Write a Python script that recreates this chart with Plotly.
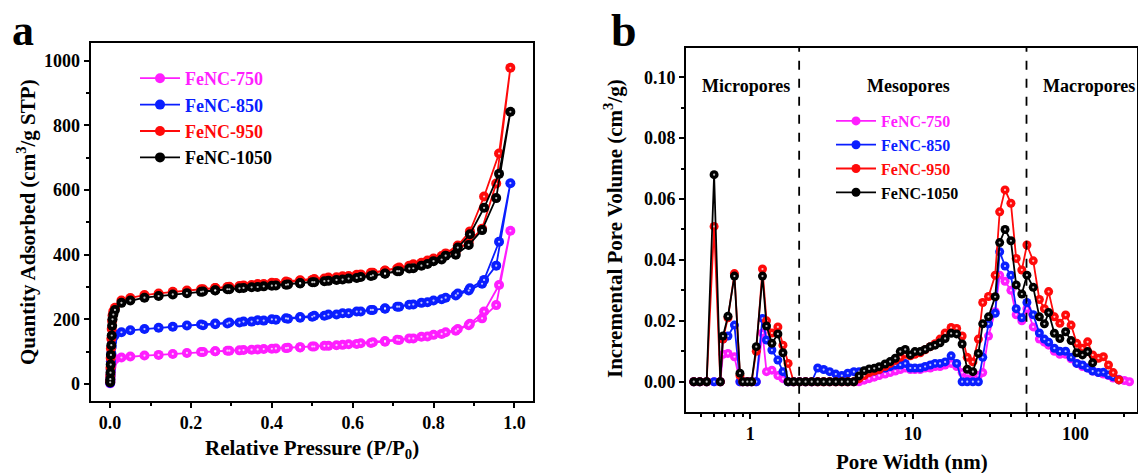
import math
import plotly.graph_objects as go

# ---------------- Panel a: N2 isotherms ----------------
series_names = ["FeNC-750", "FeNC-850", "FeNC-950", "FeNC-1050"]
series_colors = ["#FF1EFF", "#0A1EFF", "#FF0A0A", "#000000"]

ads_p = [0.0002, 0.0005, 0.001, 0.0015, 0.002, 0.003, 0.004, 0.005, 0.006, 0.008,
         0.012, 0.028, 0.05, 0.085, 0.12, 0.155, 0.19, 0.225, 0.26, 0.295,
         0.33, 0.365, 0.40, 0.435, 0.47, 0.505, 0.54, 0.575, 0.61, 0.645,
         0.68, 0.715, 0.75, 0.785, 0.82, 0.855, 0.887, 0.92, 0.955, 0.99]
des_p = [0.962, 0.925, 0.89, 0.86, 0.83, 0.80, 0.77, 0.74, 0.71, 0.68,
         0.65, 0.62, 0.59, 0.56, 0.53, 0.50, 0.47, 0.44, 0.41, 0.38,
         0.35, 0.32, 0.29, 0.26, 0.23]

ads_750 = [2, 8, 18, 30, 42, 52, 60, 66, 70, 73,
           77, 82, 85, 88, 90, 93, 96, 99, 101, 103,
           105, 107, 109, 111, 113, 116, 118, 121, 124, 127,
           131, 136, 141, 147, 155, 165, 182, 203, 244, 474]
des_750 = [306, 224, 186, 170, 160, 152, 146, 141, 137, 133,
           129, 126, 123, 120, 118, 116, 114, 112, 110, 108,
           106, 104, 103, 101, 99]

ads_850 = [3, 10, 25, 45, 70, 95, 115, 130, 140, 146,
           152, 160, 166, 170, 174, 177, 181, 184, 187, 190,
           193, 197, 200, 203, 207, 211, 215, 219, 224, 229,
           233, 239, 246, 253, 262, 274, 289, 310, 366, 621]
des_850 = [440, 322, 296, 280, 267, 258, 251, 245, 239, 234,
           229, 224, 219, 215, 211, 208, 205, 202, 199, 196,
           193, 190, 187, 185, 182]

ads_950 = [8, 25, 50, 80, 110, 140, 170, 195, 212, 225,
           236, 258, 266, 275, 280, 285, 289, 293, 297, 301,
           305, 309, 313, 317, 321, 325, 329, 333, 338, 344,
           351, 360, 370, 382, 396, 410, 440, 480, 620, 978]
des_950 = [713, 580, 472, 428, 404, 388, 375, 366, 357, 350,
           344, 339, 334, 330, 326, 322, 319, 315, 312, 309,
           306, 303, 300, 297, 293]

ads_1050 = [5, 15, 35, 60, 90, 120, 150, 180, 200, 215,
            229, 251, 258, 267, 272, 277, 281, 285, 289, 293,
            297, 300, 304, 307, 311, 315, 319, 323, 328, 334,
            341, 349, 358, 371, 385, 400, 430, 476, 575, 842]
des_1050 = [650, 545, 463, 422, 397, 380, 366, 357, 349, 342,
            336, 331, 326, 322, 318, 315, 312, 308, 305, 302,
            299, 296, 293, 290, 286]

iso_ads = [ads_750, ads_850, ads_950, ads_1050]
iso_des = [des_750, des_850, des_950, des_1050]

# ---------------- Panel b: pore size distribution ----------------
pore_width = [0.45, 0.49, 0.54, 0.60, 0.655, 0.68, 0.73, 0.80, 0.865, 0.90,
              0.96, 1.02, 1.09, 1.19, 1.26, 1.36, 1.48, 1.59,
              1.71, 1.85, 2.01, 2.19, 2.39, 2.60, 2.83, 3.08, 3.36, 3.66, 3.98, 4.34,
              4.67, 5.02, 5.39, 5.79, 6.21, 6.75, 7.25, 7.80, 8.37, 8.98,
              9.65, 10.3, 11.1, 11.9, 12.8, 13.7, 14.7, 15.8,
              17.2, 18.6, 20.1, 21.6, 23.4, 25.3, 26.9, 29.2, 32.1, 34.2,
              36.9, 40.1, 43.2, 46.8, 50.3,
              55.0, 60.0, 64.4, 68.4, 74.2, 80.2, 87.0, 94.0, 101.9, 110.4,
              118.8, 127.6, 138.5, 148.5, 159.6, 170.6, 185, 200, 215]

psd_750 = [0, 0, 0, 0, 0, 0.009, 0.0093, 0.0082, 0, 0,
           0, 0, 0, 0.016, 0.0033, 0.0038, 0.002, 0.001,
           0, 0, 0, 0, 0, 0, 0, 0, 0, 0, 0, 0,
           0, 0.0005, 0.001, 0.0015, 0.002, 0.0025, 0.003, 0.0035, 0.004, 0.0045,
           0.004, 0.004, 0.004, 0.0045, 0.0045, 0.005, 0.005, 0.0055,
           0.006, 0.005, 0.003, 0.001, 0.001, 0.002, 0.003, 0.015, 0.023, 0.035,
           0.033, 0.030, 0.022, 0.020, 0.024,
           0.018, 0.014, 0.013, 0.012, 0.010, 0.009, 0.009, 0.0075, 0.006, 0.005,
           0.0045, 0.0035, 0.003, 0.0025, 0.002, 0.0012, 0.0008, 0.0004, 0.0]

psd_850 = [0, 0, 0, 0, 0, 0.014, 0.015, 0.0186, 0, 0,
           0, 0, 0, 0.0208, 0.0137, 0.0104, 0.0071, 0.0033,
           0, 0, 0, 0, 0, 0.0045, 0.004, 0.0033, 0.0025, 0.002, 0.0028, 0.0033,
           0.0033, 0.0034, 0.0035, 0.0035, 0.004, 0.0045, 0.005, 0.0055, 0.0055, 0.006,
           0.0045, 0.0045, 0.0045, 0.005, 0.0055, 0.006, 0.006, 0.0065,
           0.0085, 0.006, 0, 0, 0, 0, 0.008, 0.019, 0.0225, 0.0427,
           0.038, 0.035, 0.024, 0.021, 0.026,
           0.022, 0.016, 0.014, 0.013, 0.011, 0.010, 0.010, 0.008, 0.006, 0.0055,
           0.0045, 0.0035, 0.003, 0.0031, 0.0022, 0.0016, 0.0006, None, None]

psd_950 = [0, 0, 0, 0.051, 0, 0.014, 0.021, 0.0355, 0.002, 0,
           0, 0, 0.010, 0.037, 0.020, 0.016, 0.018, 0.012,
           0.006, 0, 0, 0, 0, 0, 0, 0, 0, 0, 0, 0,
           0.001, 0.002, 0.003, 0.0035, 0.004, 0.005, 0.006, 0.007, 0.008, 0.009,
           0.0085, 0.009, 0.0095, 0.0105, 0.0115, 0.0125, 0.014, 0.016,
           0.0178, 0.0175, 0.015, 0.008, 0.0065, 0.014, 0.026, 0.028, 0.035, 0.0558,
           0.063, 0.0586, 0.0405, 0.0367, 0.0449,
           0.0397, 0.027, 0.024, 0.0296, 0.0213, 0.0192, 0.0219, 0.0186, 0.0126, 0.011,
           0.0131, 0.0088, 0.0077, 0.0082, 0.0055, 0.003, 0.0006, None, None]

psd_1050 = [0, 0, 0, 0.068, 0, 0.015, 0.0215, 0.0347, 0.0028, 0,
            0, 0, 0.0115, 0.0347, 0.0183, 0.0126, 0.0157, 0.0095,
            0, 0, 0, 0, 0, 0, 0, 0, 0, 0, 0, 0,
            0.0019, 0.0036, 0.0042, 0.0044, 0.0049, 0.0058, 0.0066, 0.0077, 0.0099, 0.0106,
            0.0088, 0.0099, 0.0099, 0.0106, 0.0115, 0.0120, 0.0128, 0.0142,
            0.0159, 0.0157, 0.0124, 0.0041, 0.0033, 0.0093, 0.0190, 0.0213, 0.0279, 0.0457,
            0.0500, 0.0463, 0.0318, 0.0288, 0.0350,
            0.0310, 0.0213, 0.0190, 0.0227, 0.0159, 0.0142, 0.0164, 0.0135, 0.0095, 0.0088,
            0.0099, 0.0062, None, None, None, None, None, None, None]

psd_values = [psd_750, psd_850, psd_950, psd_1050]

region_bounds = [2, 50]
region_labels = ["Micropores", "Mesopores", "Macropores"]
region_label_px = [746, 908, 1089]

# ---------------- Figure ----------------
W, H = 1138, 473
FONT = "Liberation Serif, Times New Roman, serif"


def px(x):
    return x / W


def py(y):
    return 1 - y / H


fig = go.Figure()

for name, color, a, d in zip(series_names, series_colors, iso_ads, iso_des):
    xs = ads_p + des_p
    ys = a + d
    fig.add_trace(go.Scatter(
        x=xs, y=ys, mode="lines+markers", xaxis="x", yaxis="y",
        name=f'<span style="color:{color}">{name}</span>',
        legend="legend", legendgroup="a" + name,
        line=dict(color=color, width=1.8),
        marker=dict(size=10, color=color, line=dict(width=0)),
    ))
    fig.add_trace(go.Scatter(
        x=xs, y=ys, mode="markers", xaxis="x", yaxis="y", showlegend=False,
        hoverinfo="skip",
        marker=dict(size=2.2, color="rgba(255,255,255,0.75)", line=dict(width=0)),
    ))

for name, color, v in zip(series_names, series_colors, psd_values):
    fig.add_trace(go.Scatter(
        x=pore_width, y=v, mode="lines+markers", xaxis="x2", yaxis="y2",
        name=f'<span style="color:{color}">{name}</span>',
        legend="legend2",
        line=dict(color=color, width=1.8),
        marker=dict(size=9, color=color, line=dict(width=0)),
    ))
    fig.add_trace(go.Scatter(
        x=pore_width, y=v, mode="markers", xaxis="x2", yaxis="y2", showlegend=False,
        hoverinfo="skip",
        marker=dict(size=2.2, color="rgba(255,255,255,0.75)", line=dict(width=0)),
    ))

axis_common = dict(
    showline=True, linewidth=2, linecolor="black", mirror=True,
    ticks="outside", ticklen=5, tickwidth=2, tickcolor="black",
    showgrid=False, zeroline=False,
    tickfont=dict(family=FONT, size=18, color="black", weight="bold"),
)

minor_log = [m * 10 ** e for e in (-1, 0, 1, 2) for m in range(2, 10)]

fig.update_layout(
    width=W, height=H,
    margin=dict(l=0, r=0, t=0, b=0),
    paper_bgcolor="white", plot_bgcolor="white",
    font=dict(family=FONT, size=18, color="black", weight="bold"),
    xaxis=dict(domain=[px(90.7), px(533)], range=[-0.048, 1.046],
               tick0=0, dtick=0.2, tickformat=".1f", anchor="y",
               minor=dict(dtick=0.1, ticks="outside", ticklen=3, tickwidth=1.5, tickcolor="black"),
               **axis_common),
    yaxis=dict(domain=[py(400.7), py(43.3)], range=[-51.7, 1053.8],
               tick0=0, dtick=200, anchor="x",
               minor=dict(dtick=100, ticks="outside", ticklen=3, tickwidth=1.5, tickcolor="black"),
               **axis_common),
    xaxis2=dict(domain=[px(686), px(1137)], type="log",
                range=[math.log10(0.403), math.log10(239)],
                tickmode="array", tickvals=[1, 10, 100], ticktext=["1", "10", "100"],
                anchor="y2",
                minor=dict(tickmode="array", tickvals=minor_log, ticks="outside",
                           ticklen=3, tickwidth=1.5, tickcolor="black"),
                **axis_common),
    yaxis2=dict(domain=[py(411.7), py(47.7)], range=[-0.00985, 0.1097],
                tick0=0, dtick=0.02, tickformat=".2f", anchor="x2",
                minor=dict(dtick=0.01, ticks="outside", ticklen=3, tickwidth=1.5, tickcolor="black"),
                **axis_common),
    legend=dict(x=px(135), y=py(60), xanchor="left", yanchor="top",
                bgcolor="rgba(0,0,0,0)", tracegroupgap=0, itemwidth=40,
                font=dict(family=FONT, size=18, weight="bold")),
    legend2=dict(x=px(831), y=py(104), xanchor="left", yanchor="top",
                 bgcolor="rgba(0,0,0,0)", itemwidth=40,
                 font=dict(family=FONT, size=16, weight="bold")),
    showlegend=True,
)

# dashed boundaries between pore regions
for b in region_bounds:
    fig.add_shape(type="line", xref="x2", yref="y2 domain", x0=b, x1=b, y0=0, y1=1,
                  line=dict(color="black", width=1.8, dash="dash"))

annotations = []
for lab, xp in zip(region_labels, region_label_px):
    annotations.append(dict(text=lab, x=px(xp), y=py(86), xref="paper", yref="paper",
                            showarrow=False, xanchor="center", yanchor="middle",
                            font=dict(family=FONT, size=18, weight="bold", color="black")))

titles = [
    ("Relative Pressure (P/P<sub>0</sub>)", 312, 449, 0),
    ("Quantity Adsorbed (cm<sup>3</sup>/g STP)", 26, 222, -90),
    ("Pore Width (nm)", 912, 462, 0),
    ("Incremental Pore Volume (cm<sup>3</sup>/g)", 614, 229, -90),
]
for t, xp, yp, ang in titles:
    annotations.append(dict(text=t, x=px(xp), y=py(yp), xref="paper", yref="paper",
                            showarrow=False, xanchor="center", yanchor="middle", textangle=ang,
                            font=dict(family=FONT, size=21, weight="bold", color="black")))

annotations.append(dict(text="a", x=px(23), y=py(30), xref="paper", yref="paper",
                        showarrow=False, xanchor="center", yanchor="middle",
                        font=dict(family=FONT, size=44, weight="bold", color="black")))
annotations.append(dict(text="b", x=px(624), y=py(30), xref="paper", yref="paper",
                        showarrow=False, xanchor="center", yanchor="middle",
                        font=dict(family=FONT, size=46, weight="bold", color="black")))

fig.update_layout(annotations=annotations)

fig.write_html(
    "out.html",
    config={"displayModeBar": False},
    post_script="document.body.style.margin='0px';document.body.style.padding='0px';"
                "document.body.style.overflow='hidden';",
)
